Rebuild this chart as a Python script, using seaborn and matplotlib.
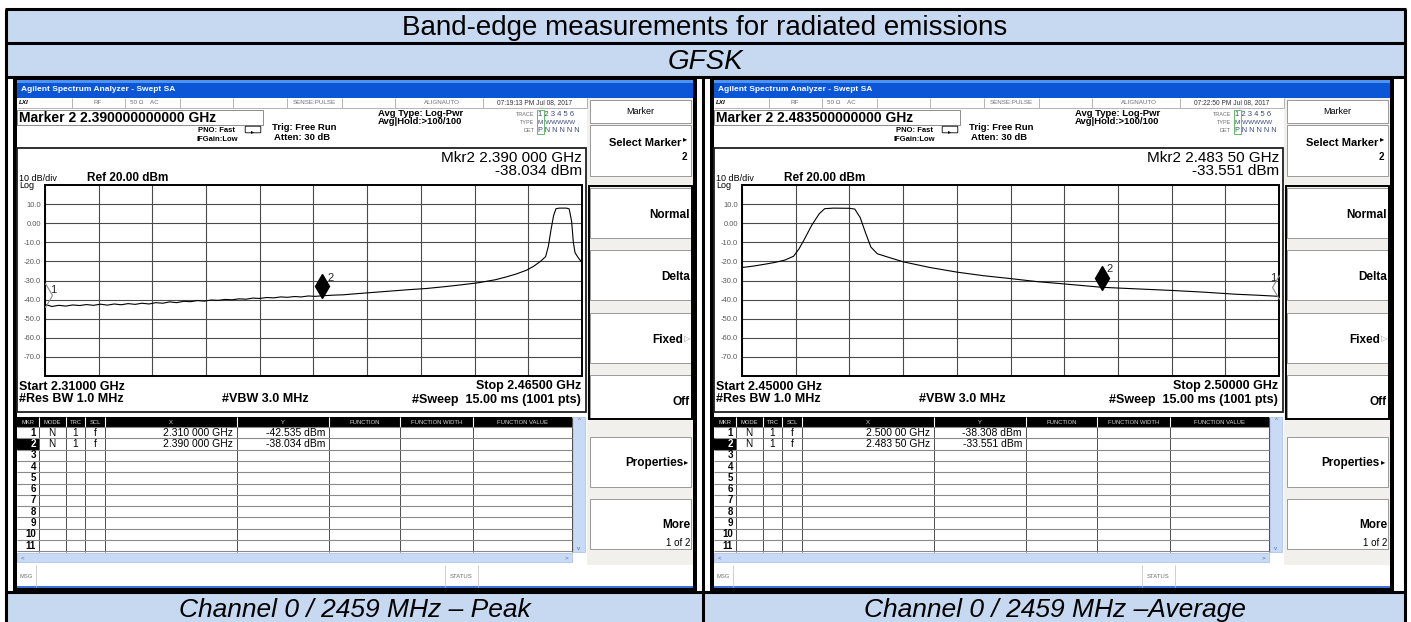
import numpy as np
import pandas as pd
import matplotlib
matplotlib.use("Agg")
import matplotlib.pyplot as plt
from matplotlib.patches import Rectangle, FancyBboxPatch
import seaborn as sns

# --- table text ---
TITLE = "Band-edge measurements for radiated emissions"
MODULATION = "GFSK"
CAPTIONS = ["Channel 0 / 2459 MHz \u2013 Peak", "Channel 0 / 2459 MHz \u2013Average"]

# --- traces (MHz, dBm) ---
peak_freq = [2310, 2312, 2314, 2316, 2318, 2320, 2322, 2324, 2326, 2328, 2330, 2332, 2334, 2336,
             2338, 2340, 2342, 2344, 2346, 2348, 2350, 2352, 2354, 2356, 2358, 2360, 2362, 2364,
             2366, 2368, 2370, 2372, 2374, 2376, 2378, 2380, 2382, 2384, 2386, 2388, 2390, 2392,
             2394, 2396, 2398, 2400, 2405, 2410, 2415, 2420, 2425, 2430, 2435, 2440, 2443, 2446,
             2449, 2451, 2453, 2454.5, 2455.3, 2456.0, 2456.8, 2457.5, 2458.5, 2460.5, 2461.3,
             2462.0, 2462.5, 2463.0, 2464.0, 2465.0]
peak_level = [-42.5, -43.6, -43.0, -43.4, -42.8, -43.1, -42.6, -43.0, -42.4, -42.9, -42.3, -42.7,
              -42.1, -42.5, -41.9, -42.3, -41.6, -41.9, -41.2, -41.6, -40.9, -41.1, -40.5, -40.8,
              -40.2, -40.4, -39.9, -40.1, -39.6, -39.8, -39.2, -39.4, -38.9, -39.1, -38.6, -38.8,
              -38.4, -38.6, -38.1, -38.3, -38.0, -37.8, -37.6, -37.5, -37.2, -36.9, -36.2, -35.5,
              -34.8, -34.2, -33.3, -32.3, -31.2, -29.6, -28.2, -26.6, -24.6, -22.6, -20.0, -17.5,
              -12.0, -4.0, 4.0, 7.6, 7.9, 7.9, 7.5, 1.0, -10.0, -15.5, -18.3, -20.5]

avg_freq = [2450, 2451, 2452, 2453, 2454, 2454.8, 2455.3, 2455.8, 2456.5, 2457.2, 2457.7, 2458.5,
            2460.0, 2460.5, 2461.0, 2461.5, 2462.0, 2462.6, 2463.5, 2465, 2467.5, 2470, 2472.5,
            2475, 2477.5, 2480, 2483.5, 2486, 2490, 2493, 2496, 2498, 2500]
avg_level = [-23.2, -22.5, -21.6, -20.6, -19.3, -17.3, -13.5, -8.5, -1.0, 5.0, 7.6, 7.9, 7.8, 7.4,
             3.0, -5.0, -12.5, -16.0, -17.6, -20.2, -23.2, -25.6, -27.5, -29.0, -30.6, -31.8,
             -33.55, -34.2, -35.2, -36.1, -37.2, -37.7, -38.3]

# --- analyzer settings / readouts per screen ---
span_mhz = [(2310, 2465), (2450, 2500)]
start_labels = ["Start 2.31000 GHz", "Start 2.45000 GHz"]
stop_labels = ["Stop 2.46500 GHz", "Stop 2.50000 GHz"]
clock_labels = ["07:19:13 PM Jul 08, 2017", "07:22:50 PM Jul 08, 2017"]
active_marker = ["Marker 2 2.390000000000 GHz", "Marker 2 2.483500000000 GHz"]
mkr_freq_text = ["Mkr2 2.390 000 GHz", "Mkr2 2.483 50 GHz"]
mkr_level_text = ["-38.034 dBm", "-33.551 dBm"]

marker1_freq = [2310, 2500]
marker1_level = [-42.535, -38.308]
marker2_freq = [2390, 2483.5]
marker2_level = [-38.034, -33.551]
marker_x_text = [["2.310 000 GHz", "2.390 000 GHz"], ["2.500 00 GHz", "2.483 50 GHz"]]
marker_y_text = [["-42.535 dBm", "-38.034 dBm"], ["-38.308 dBm", "-33.551 dBm"]]

ytick_values = [10, 0, -10, -20, -30, -40, -50, -60, -70]
ytick_labels = ["10.0", "0.00", "-10.0", "-20.0", "-30.0", "-40.0", "-50.0", "-60.0", "-70.0"]
table_headers = ["MKR", "MODE", "TRC", "SCL", "X", "Y", "FUNCTION", "FUNCTION WIDTH", "FUNCTION VALUE"]

traces = [(peak_freq, peak_level), (avg_freq, avg_level)]

# --- figure in pixel coordinates ---
W, H = 1411, 622
sns.set_theme(style="white")
plt.rcParams["font.family"] = ["Liberation Sans", "DejaVu Sans"]

fig = plt.figure(figsize=(W / 100, H / 100), dpi=100)
bg = fig.add_axes([0, 0, 1, 1])
bg.set_xlim(0, W)
bg.set_ylim(H, 0)
bg.axis("off")

LIGHT = "#C6D9F1"
GREY = "#6E6E6E"


def box(x0, y0, x1, y1, fc="none", ec="none", lw=0, z=1):
    bg.add_patch(Rectangle((x0, y0), x1 - x0, y1 - y0, facecolor=fc, edgecolor=ec,
                           linewidth=lw, zorder=z))


def hline(y, x0, x1, color="black", lw=0.7, z=3):
    bg.plot([x0, x1], [y, y], color=color, lw=lw, zorder=z, solid_capstyle="butt")


def vline(x, y0, y1, color="black", lw=0.7, z=3):
    bg.plot([x, x], [y0, y1], color=color, lw=lw, zorder=z, solid_capstyle="butt")


def put(x, y, s, size, weight="normal", ha="left", va="center", color="black", style="normal", z=5):
    bg.text(x, y, s, fontsize=size, fontweight=weight, ha=ha, va=va, color=color,
            fontstyle=style, zorder=z)


# outer Word-style table
box(6, 8.5, 1405, 76.5, fc=LIGHT, z=0.5)
box(6, 592, 1405, 622, fc=LIGHT, z=0.5)
for yy in [8.5, 42.5, 76.5, 592]:
    hline(yy, 5, 1406, lw=2.2, z=4)
vline(6, 8.5, 622, lw=2.2, z=4)
vline(1405, 8.5, 622, lw=2.2, z=4)
vline(703, 76.5, 622, lw=2.2, z=4)
put(705, 35, TITLE, 20, ha="center", va="baseline")
put(705, 69, MODULATION, 20, ha="center", va="baseline", style="italic")
put(355, 617, CAPTIONS[0], 19, ha="center", va="baseline", style="italic")
put(1055, 617, CAPTIONS[1], 19, ha="center", va="baseline", style="italic")


def screen(k):
    d = k * 697
    X = lambda x: x + d

    # window frame + title bar
    box(X(13), 77, X(697), 591, fc="black", z=1)
    box(X(17), 80, X(693), 588, fc="#F1F0EC", z=1.1)
    box(X(17), 80, X(693), 98, fc="#0A56D6", z=1.2)
    box(X(17), 80, X(693), 83, fc="#4F93F2", z=1.3)
    put(X(21), 89.5, "Agilent Spectrum Analyzer - Swept SA", 6, "bold", color="white")

    # white screen area
    box(X(17), 98, X(587), 565, fc="white", z=1.2)

    # status row
    hline(108, X(17), X(587), "#A8A8A8", 0.6)
    for xc in [72, 125, 180, 233, 287, 342, 395, 483, 587]:
        vline(X(xc), 98, 108, "#A8A8A8", 0.6)
    put(X(19), 103, "LXI", 4.5, "bold", style="italic")
    put(X(98), 103, "RF", 4.5, ha="center", color=GREY)
    put(X(130), 103, "50 \u03a9    AC", 4.5, color=GREY)
    put(X(314), 103, "SENSE:PULSE", 4.5, ha="center", color=GREY)
    put(X(442), 103, "ALIGNAUTO", 4.5, ha="center", color=GREY)
    put(X(535), 103, clock_labels[k], 4.8, ha="center", color="#333333")

    # header readouts
    box(X(17), 110, X(263), 125, fc="white", ec="#8C8C8C", lw=0.7, z=2)
    put(X(19), 117.5, active_marker[k], 10, "bold")
    put(X(217), 130, "PNO: Fast", 5.5, "bold", ha="center")
    put(X(217), 139.5, "IFGain:Low", 5.5, "bold", ha="center")
    bg.add_patch(FancyBboxPatch((X(246), 127), 14, 5, boxstyle="round,pad=0.8",
                                facecolor="white", edgecolor="black", linewidth=0.6, zorder=3))
    put(X(253), 131.5, "\u25b8", 4.5, ha="center")
    put(X(272), 128, "Trig: Free Run", 6.8, "bold")
    put(X(274), 138, "Atten: 30 dB", 6.8, "bold")
    put(X(378), 113, "Avg Type: Log-Pwr", 6.8, "bold")
    put(X(378), 122, "Avg|Hold:>100/100", 6.8, "bold")
    put(X(534), 114, "TRACE", 4, ha="right", color=GREY)
    put(X(534), 122, "TYPE", 4, ha="right", color=GREY)
    put(X(534), 130, "DET", 4, ha="right", color=GREY)
    put(X(538), 114, "1 2 3 4 5 6", 5.5, color="#3A4A7A")
    put(X(538), 122, "M WWWWW", 4.6, color="#3A4A7A")
    put(X(538), 130, "P N N N N N", 5.2, color="#3A4A7A")
    box(X(536.5), 109.5, X(543.5), 134, ec="#4CB04C", lw=0.6, z=3)

    # graph frame
    box(X(17), 148, X(586), 412, fc="white", ec="#202020", lw=1.3, z=1.5)
    put(X(582), 157.5, mkr_freq_text[k], 11, ha="right")
    put(X(582), 171, mkr_level_text[k], 11, ha="right")
    put(X(19), 178.5, "10 dB/div", 6.5)
    put(X(87), 178, "Ref 20.00 dBm", 8.5, "bold")
    put(X(19), 185, "Log", 6.5)
    put(X(19), 386.5, start_labels[k], 9, "bold")
    put(X(581), 386.5, stop_labels[k], 9, "bold", ha="right")
    put(X(19), 399.5, "#Res BW 1.0 MHz", 9, "bold")
    put(X(222), 399.5, "#VBW 3.0 MHz", 9, "bold")
    put(X(581), 399.5, "#Sweep  15.00 ms (1001 pts)", 9, "bold", ha="right")

    # marker table
    cols = [17, 39, 66, 85, 105, 237, 329, 400, 473, 572]
    box(X(17), 415, X(586), 565, fc="white", z=1.3)
    box(X(17), 417, X(572), 427, fc="black", z=2)
    for c0, c1, lab in zip(cols[:-1], cols[1:], table_headers):
        put(X((c0 + c1) / 2), 422, lab, 4.2, ha="center", color="#D8D8D8")
    for c in cols[1:-1]:
        vline(X(c), 417, 427, "white", 0.8)
        vline(X(c), 427, 552, "#303030", 0.6)
    vline(X(572), 417, 552, "#303030", 0.6)
    row_h = 11.3
    for r in range(12):
        hline(427 + r * row_h, X(17), X(572), "#8A8A8A", 0.8)
    box(X(17), 427 + row_h, X(39), 427 + 2 * row_h, fc="black", z=2)
    for r in range(11):
        yc = 427 + (r + 0.5) * row_h
        put(X(36), yc, str(r + 1), 7, "bold", ha="right", color="white" if r == 1 else "black")
    for r in range(2):
        yc = 427 + (r + 0.5) * row_h
        put(X(52), yc, "N", 7.2, ha="center")
        put(X(75.5), yc, "1", 7.2, ha="center")
        put(X(95), yc, "f", 7.2, ha="center")
        put(X(233), yc, marker_x_text[k][r], 7.5, ha="right")
        put(X(325), yc, marker_y_text[k][r], 7.5, ha="right")
    box(X(573), 417, X(585), 552, fc="#C9DAF6", ec="#A6BDE6", lw=0.5, z=2)
    put(X(579), 421, "^", 4.5, ha="center", color="#4A6AB0")
    put(X(579), 548, "v", 4.5, ha="center", color="#4A6AB0")
    box(X(17), 553, X(572), 562, fc="#C9DAF6", ec="#A6BDE6", lw=0.5, z=2)
    put(X(21), 557.5, "<", 4.5, color="#4A6AB0")
    put(X(566), 557.5, ">", 4.5, ha="center", color="#4A6AB0")

    # message bar
    box(X(17), 565, X(693), 587, fc="white", z=1.4)
    hline(587, X(17), X(693), "#3A6FD8", 1.4)
    put(X(26), 576, "MSG", 4.2, ha="center", color=GREY)
    vline(X(36), 565, 587, "#C8C8C8", 0.6)
    put(X(461), 576, "STATUS", 4.2, ha="center", color=GREY)
    vline(X(445), 565, 587, "#C8C8C8", 0.6)
    vline(X(478), 565, 587, "#C8C8C8", 0.6)

    # softkey panel
    box(X(590), 100, X(691), 123, fc="white", ec="#8A8A8A", lw=0.6, z=2)
    put(X(640.5), 111, "Marker", 6.5, ha="center")
    box(X(590), 125, X(691), 176, fc="white", ec="#8A8A8A", lw=0.6, z=2)
    put(X(681), 143, "Select Marker", 8, "bold", ha="right")
    put(X(683), 140, "\u25b8", 6, ha="left")
    put(X(687), 157, "2", 7, "bold", ha="right")
    tops = [188, 250, 313, 375, 437, 499]
    labels = ["Normal", "Delta", "Fixed", "Off", "Properties", "More"]
    centers = [215, 277, 340, 402, 463, 525]
    for t, lab, yc in zip(tops, labels, centers):
        box(X(590), t, X(691), t + 50 if t != 375 else 418, fc="white", ec="#8A8A8A", lw=0.6, z=2)
        xr = X(683) if lab in ("Fixed", "Properties") else X(690)
        put(xr, yc, lab, 8.5, "bold", ha="right")
    put(X(684), 340, "\u25b7", 6, color="#9A9A9A")
    put(X(684), 463, "\u25b8", 6)
    put(X(690), 543, "1 of 2", 7, ha="right")
    box(X(589), 186, X(692), 419, ec="black", lw=1.4, z=2.5)

    # spectrum graticule
    f0, f1 = span_mhz[k]
    gax = fig.add_axes([X(45) / W, (H - 376) / H, 537 / W, 191 / H], zorder=3)
    df = pd.DataFrame({"freq": traces[k][0], "level": traces[k][1]})
    sns.lineplot(data=df, x="freq", y="level", ax=gax, color="black", linewidth=0.8)
    gax.set_xlim(f0, f1)
    gax.set_ylim(-80, 20)
    gax.set_xticks(np.linspace(f0, f1, 11))
    gax.set_xticklabels([])
    gax.set_yticks(ytick_values)
    gax.set_yticklabels(ytick_labels)
    gax.grid(True, color="#4A4A4A", linewidth=0.8)
    gax.tick_params(length=0, pad=3, labelsize=5.5, labelcolor="#5A5A5A")
    gax.set_xlabel("")
    gax.set_ylabel("")
    for sp in gax.spines.values():
        sp.set_color("black")
        sp.set_linewidth(1.4)

    # markers
    gax.plot(marker2_freq[k], marker2_level[k] + 5, marker="d", ms=12, color="black",
             clip_on=False, zorder=5)
    gax.annotate("2", (marker2_freq[k], marker2_level[k]), xytext=(8, 18),
                 textcoords="offset pixels", fontsize=8, ha="center", va="center")
    gax.plot(marker1_freq[k], marker1_level[k] + 5, marker="d", ms=12, mfc="none",
             mec="#8A8A8A", mew=0.8, clip_on=True, zorder=5)
    gax.annotate("1", (marker1_freq[k], marker1_level[k]), xytext=(8 if k == 0 else -6, 14 if k == 0 else 18),
                 textcoords="offset pixels", fontsize=8, ha="center", va="center")


screen(0)
screen(1)

fig.savefig("out.png", dpi=100)
